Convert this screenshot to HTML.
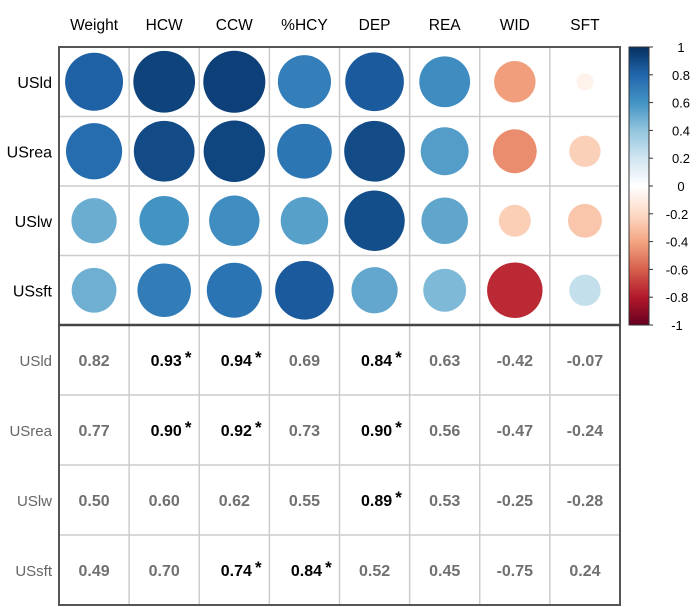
<!DOCTYPE html>
<html><head><meta charset="utf-8"><style>
html,body{margin:0;padding:0;background:#fff;}
svg{display:block;font-family:"Liberation Sans",Arial,sans-serif;}
</style></head><body>
<svg id="chart" width="700" height="607"></svg>
<script>
const cols = ["Weight","HCW","CCW","%HCY","DEP","REA","WID","SFT"];
const rows = ["USld","USrea","USlw","USsft"];
const valsUSld  = [0.82,0.93,0.94,0.69,0.84,0.63,-0.42,-0.07];
const valsUSrea = [0.77,0.90,0.92,0.73,0.90,0.56,-0.47,-0.24];
const valsUSlw  = [0.50,0.60,0.62,0.55,0.89,0.53,-0.25,-0.28];
const valsUSsft = [0.49,0.70,0.74,0.84,0.52,0.45,-0.75,0.24];
const sigUSld  = [0,1,1,0,1,0,0,0];
const sigUSrea = [0,1,1,0,1,0,0,0];
const sigUSlw  = [0,0,0,0,1,0,0,0];
const sigUSsft = [0,0,1,1,0,0,0,0];
const legendTicks = [1,0.8,0.6,0.4,0.2,0,-0.2,-0.4,-0.6,-0.8,-1];
const vals = [valsUSld,valsUSrea,valsUSlw,valsUSsft];
const sigs = [sigUSld,sigUSrea,sigUSlw,sigUSsft];

const NS="http://www.w3.org/2000/svg";
const svg=document.getElementById('chart');
function mk(t,a,parent){const e=document.createElementNS(NS,t);for(const k in a)e.setAttribute(k,a[k]);(parent||svg).appendChild(e);return e;}
const L=59,R=620,T=47,MID=325,B=605;
const cw=(R-L)/cols.length, rh=(MID-T)/rows.length, rh2=(B-MID)/rows.length;
const stops=[[103,0,31],[178,24,43],[214,96,77],[244,165,130],[253,219,199],[255,255,255],[209,229,240],[146,197,222],[67,147,195],[33,102,172],[5,48,97]];
function color(v){const p=(v+1)/2*10;const i=Math.min(9,Math.floor(p));const f=p-i;const a=stops[i],b=stops[i+1];
 return 'rgb('+a.map((c,k)=>Math.round(c+(b[k]-c)*f)).join(',')+')';}
const xC=i=>L+cw*(i+0.5), yC=j=>T+rh*(j+0.5), yT=j=>MID+rh2*(j+0.5);
const yLeg=v=>T+(1-v)/2*(MID-T);

for(let i=1;i<cols.length;i++){const l=mk('line',{x1:L+cw*i,x2:L+cw*i,y1:T,y2:B,stroke:'#cccccc','stroke-width':1.5});
}
for(let j=1;j<rows.length;j++){[T+rh*j,MID+rh2*j].forEach(y=>{const l=mk('line',{x1:L,x2:R,y1:y,y2:y,stroke:'#cccccc','stroke-width':1.5});
});}

cols.forEach((c,i)=>{const t=mk('text',{x:xC(i),y:30,'text-anchor':'middle','font-size':15.5,fill:'#000'});t.textContent=c;
});
rows.forEach((r,j)=>{
 const t=mk('text',{x:52,y:yC(j)+6,'text-anchor':'end','font-size':16,fill:'#000'});t.textContent=r;
 
 const t2=mk('text',{x:52,y:yT(j)+6,'text-anchor':'end','font-size':15,fill:'#666'});t2.textContent=r;
 
 vals[j].forEach((v,i)=>{
  const c=mk('circle',{cx:xC(i),cy:yC(j),r:32*Math.sqrt(Math.abs(v)),fill:color(v)});
  
  const s=sigs[j][i];
  const t=mk('text',{x:xC(i)+(s?2:0),y:yT(j)+6,'text-anchor':'middle','font-size':16,'font-weight':'bold',fill:s?'#000':'#707070'});
  t.textContent=v.toFixed(2);
  
  if(s){const st=mk('text',{x:xC(i)+24,y:yT(j)+3,'text-anchor':'middle','font-size':17,'font-weight':'bold',fill:'#000'});st.textContent='*';
  }
 });
});
const br=mk('rect',{x:L,y:T,width:R-L,height:B-T,fill:'none',stroke:'#555','stroke-width':2});

const sep=mk('line',{x1:L,x2:R,y1:MID,y2:MID,stroke:'#444','stroke-width':2.5});


const defs=mk('defs',{});const g=mk('linearGradient',{id:'cb',x1:0,y1:0,x2:0,y2:1},defs);
for(let k=0;k<=10;k++){mk('stop',{offset:k/10,'stop-color':color(1-k/5)},g);}
const cb=mk('rect',{x:629,y:T,width:20,height:MID-T,fill:'url(#cb)',stroke:'#333','stroke-width':1});

legendTicks.forEach(v=>{const y=yLeg(v);
 const tk=mk('line',{x1:649,x2:653,y1:y,y2:y,stroke:'#333'});
 const t=mk('text',{x:v<0?677:681,y:y+5,'text-anchor':'middle','font-size':13,fill:'#000'});t.textContent=String(v);
 });
</script>
</body></html>
